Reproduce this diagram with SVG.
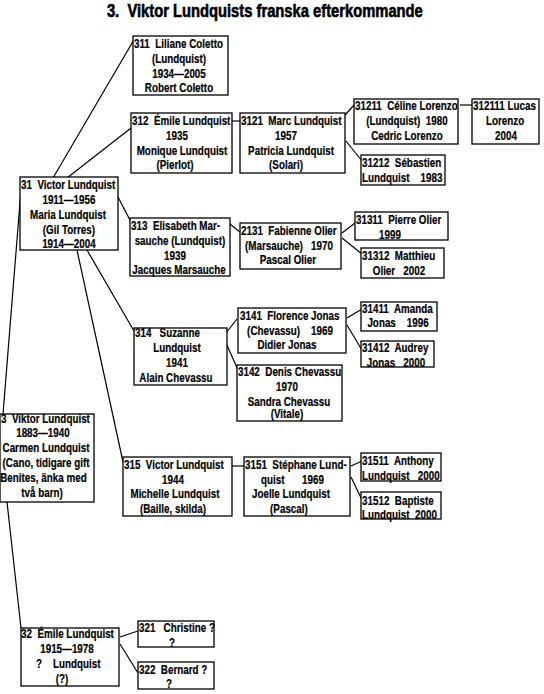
<svg xmlns="http://www.w3.org/2000/svg" width="544" height="694" viewBox="0 0 544 694">
<style>
rect.b{fill:#fff;stroke:#000;stroke-width:1.3}
text{font-family:"Liberation Sans",Arial,sans-serif;font-weight:bold;font-size:12px;fill:#000;stroke:#000;stroke-width:0.2}
text.c{text-anchor:middle}
text.title{font-size:18px;text-anchor:middle;stroke-width:0.6}
#links line{stroke:#000;stroke-width:1.2}
</style>
<rect width="544" height="694" fill="#fff"/>
<g transform="scale(0.82 1)"><text class="title" x="323" y="17" xml:space="preserve">3.  Viktor Lundquists franska efterkommande</text></g>
<g id="links">
<line x1="53" y1="178" x2="135" y2="38"/>
<line x1="67" y1="178" x2="131" y2="128"/>
<line x1="118" y1="197" x2="131" y2="222"/>
<line x1="87" y1="250" x2="134" y2="331"/>
<line x1="77" y1="250" x2="123" y2="462"/>
<line x1="21" y1="190" x2="3" y2="414"/>
<line x1="7" y1="502" x2="21" y2="628"/>
<line x1="232" y1="121" x2="240" y2="121"/>
<line x1="345" y1="115" x2="355" y2="104"/>
<line x1="346" y1="141" x2="362" y2="161"/>
<line x1="460" y1="105" x2="472" y2="105"/>
<line x1="230" y1="224" x2="241" y2="233"/>
<line x1="342" y1="233" x2="355" y2="223"/>
<line x1="342" y1="238" x2="362" y2="254"/>
<line x1="226" y1="333" x2="237" y2="319"/>
<line x1="226" y1="343" x2="238" y2="370"/>
<line x1="347" y1="318" x2="362" y2="309"/>
<line x1="347" y1="325" x2="363" y2="352"/>
<line x1="232" y1="466" x2="244" y2="466"/>
<line x1="351" y1="466" x2="362" y2="461"/>
<line x1="351" y1="477" x2="362" y2="500"/>
<line x1="120" y1="637" x2="138" y2="631"/>
<line x1="120" y1="644" x2="138" y2="673"/>
</g>
<g id="n311"><rect class="b" x="133" y="36" width="95" height="59"/>
<g transform="scale(0.82 1)">
<text x="163.4" y="48" xml:space="preserve">311  Liliane Coletto</text>
<text class="c" x="218.3" y="63">(Lundquist)</text>
<text class="c" x="218.3" y="78">1934—2005</text>
<text class="c" x="218.3" y="92">Robert Coletto</text></g></g>
<g id="n312"><rect class="b" x="131" y="113" width="101" height="60"/>
<g transform="scale(0.82 1)">
<text x="161" y="125" xml:space="preserve">312  Émile Lundquist</text>
<text class="c" x="215.9" y="140">1935</text>
<text class="c" x="222" y="155">Monique Lundquist</text>
<text class="c" x="213.4" y="169">(Pierlot)</text></g></g>
<g id="n3121"><rect class="b" x="240" y="113" width="105" height="60"/>
<g transform="scale(0.82 1)">
<text x="293.9" y="125" xml:space="preserve">3121  Marc Lundquist</text>
<text class="c" x="348.8" y="140">1957</text>
<text class="c" x="354.9" y="155">Patricia Lundquist</text>
<text class="c" x="348.8" y="169">(Solari)</text></g></g>
<g id="n31211"><rect class="b" x="354" y="99" width="104" height="45"/>
<g transform="scale(0.82 1)">
<text x="432.9" y="110" xml:space="preserve">31211  Céline Lorenzo</text>
<text class="c" x="496.3" y="125" xml:space="preserve">(Lundquist)  1980</text>
<text class="c" x="496.3" y="140">Cedric Lorenzo</text></g></g>
<g id="n312111"><rect class="b" x="472" y="99" width="67" height="45"/>
<g transform="scale(0.82 1)">
<text x="576.8" y="110">312111 Lucas</text>
<text class="c" x="615.9" y="125">Lorenzo</text>
<text class="c" x="617.1" y="140">2004</text></g></g>
<g id="n31212"><rect class="b" x="361" y="155" width="84" height="30"/>
<g transform="scale(0.82 1)">
<text x="441.5" y="167" xml:space="preserve">31212  Sébastien</text>
<text x="441.5" y="182" xml:space="preserve">Lundquist    1983</text></g></g>
<g id="n31"><rect class="b" x="20" y="177" width="98" height="73"/>
<g transform="scale(0.82 1)">
<text x="25.6" y="189" xml:space="preserve">31  Victor Lundquist</text>
<text class="c" x="84.1" y="204">1911—1956</text>
<text class="c" x="82.9" y="219">Maria Lundquist</text>
<text class="c" x="84.1" y="234">(Gil Torres)</text>
<text class="c" x="84.1" y="248">1914—2004</text></g></g>
<g id="n313"><rect class="b" x="130" y="218" width="100" height="58"/>
<g transform="scale(0.82 1)">
<text x="159.8" y="230" xml:space="preserve">313  Elisabeth Mar-</text>
<text class="c" x="219.5" y="245">sauche (Lundquist)</text>
<text class="c" x="213.4" y="260">1939</text>
<text class="c" x="218.3" y="274">Jacques Marsauche</text></g></g>
<g id="n2131"><rect class="b" x="240" y="223" width="101" height="46"/>
<g transform="scale(0.82 1)">
<text x="293.9" y="235" xml:space="preserve">2131  Fabienne Olier</text>
<text class="c" x="352.4" y="250" xml:space="preserve">(Marsauche)   1970</text>
<text class="c" x="351.2" y="264">Pascal Olier</text></g></g>
<g id="n31311"><rect class="b" x="355" y="212" width="93" height="28"/>
<g transform="scale(0.82 1)">
<text x="434.1" y="224" xml:space="preserve">31311  Pierre Olier</text>
<text class="c" x="475.6" y="239">1999</text></g></g>
<g id="n31312"><rect class="b" x="361" y="248" width="83" height="30"/>
<g transform="scale(0.82 1)">
<text x="441.5" y="260" xml:space="preserve">31312  Matthieu</text>
<text class="c" x="486.6" y="275" xml:space="preserve">Olier   2002</text></g></g>
<g id="n314"><rect class="b" x="134" y="328" width="93" height="57"/>
<g transform="scale(0.82 1)">
<text x="164.6" y="337" xml:space="preserve">314   Suzanne</text>
<text class="c" x="215.9" y="352">Lundquist</text>
<text class="c" x="215.9" y="367">1941</text>
<text class="c" x="214.6" y="382">Alain Chevassu</text></g></g>
<g id="n3141"><rect class="b" x="238" y="308" width="108" height="45"/>
<g transform="scale(0.82 1)">
<text x="292.7" y="320" xml:space="preserve">3141  Florence Jonas</text>
<text class="c" x="353.7" y="335" xml:space="preserve">(Chevassu)    1969</text>
<text class="c" x="350" y="349">Didier Jonas</text></g></g>
<g id="n31411"><rect class="b" x="361" y="302" width="76" height="29"/>
<g transform="scale(0.82 1)">
<text x="441.5" y="313" xml:space="preserve">31411  Amanda</text>
<text class="c" x="485.4" y="327" xml:space="preserve">Jonas    1996</text></g></g>
<g id="n31412"><rect class="b" x="361" y="341" width="73" height="26"/>
<g transform="scale(0.82 1)">
<text x="441.5" y="352" xml:space="preserve">31412  Audrey</text>
<text class="c" x="482.9" y="367" xml:space="preserve">Jonas   2000</text></g></g>
<g id="n3142"><rect class="b" x="237" y="365" width="105" height="56"/>
<g transform="scale(0.82 1)">
<text x="290.2" y="376" xml:space="preserve">3142  Denis Chevassu</text>
<text class="c" x="350" y="391">1970</text>
<text class="c" x="352.4" y="406">Sandra Chevassu</text>
<text class="c" x="350" y="418">(Vitale)</text></g></g>
<g id="n3"><rect class="b" x="0" y="414" width="94" height="88"/>
<g transform="scale(0.82 1)">
<text x="1.2" y="423" xml:space="preserve">3  Viktor Lundquist</text>
<text class="c" x="52.4" y="437">1883—1940</text>
<text class="c" x="56.1" y="452">Carmen Lundquist</text>
<text class="c" x="56.1" y="467">(Cano, tidigare gift</text>
<text class="c" x="53" y="482">Benites, änka med</text>
<text class="c" x="51.2" y="497">två barn)</text></g></g>
<g id="n315"><rect class="b" x="123" y="457" width="109" height="59"/>
<g transform="scale(0.82 1)">
<text x="151.2" y="469" xml:space="preserve">315  Victor Lundquist</text>
<text class="c" x="211" y="484">1944</text>
<text class="c" x="213.4" y="498">Michelle Lundquist</text>
<text class="c" x="211" y="513">(Baille, skilda)</text></g></g>
<g id="n3151"><rect class="b" x="244" y="457" width="106" height="59"/>
<g transform="scale(0.82 1)">
<text x="298.8" y="469" xml:space="preserve">3151  Stéphane Lund-</text>
<text y="484"><tspan x="318.3">quist</tspan> <tspan x="368.3">1969</tspan></text>
<text class="c" x="354.9" y="498">Joelle Lundquist</text>
<text class="c" x="352.4" y="513">(Pascal)</text></g></g>
<g id="n31511"><rect class="b" x="361" y="453" width="80" height="28"/>
<g transform="scale(0.82 1)">
<text x="441.5" y="465" xml:space="preserve">31511  Anthony</text>
<text x="441.5" y="480" xml:space="preserve">Lundquist   2000</text></g></g>
<g id="n31512"><rect class="b" x="361" y="492" width="80" height="27"/>
<g transform="scale(0.82 1)">
<text x="441.5" y="505" xml:space="preserve">31512  Baptiste</text>
<text x="441.5" y="519" xml:space="preserve">Lundquist  2000</text></g></g>
<g id="n32"><rect class="b" x="21" y="628" width="98" height="58"/>
<g transform="scale(0.82 1)">
<text x="25.6" y="638" xml:space="preserve">32  Émile Lundquist</text>
<text class="c" x="81.7" y="653">1915—1978</text>
<text y="668"><tspan x="43.9">?</tspan> <tspan x="64.6">Lundquist</tspan></text>
<text class="c" x="75.6" y="683">(?)</text></g></g>
<g id="n321"><rect class="b" x="138" y="621" width="76" height="26"/>
<g transform="scale(0.82 1)">
<text x="169.5" y="632" xml:space="preserve">321   Christine ?</text>
<text class="c" x="209.8" y="647">?</text></g></g>
<g id="n322"><rect class="b" x="138" y="662" width="76" height="27"/>
<g transform="scale(0.82 1)">
<text x="169.5" y="674" xml:space="preserve">322  Bernard ?</text>
<text class="c" x="206.1" y="688">?</text></g></g>
</svg>
